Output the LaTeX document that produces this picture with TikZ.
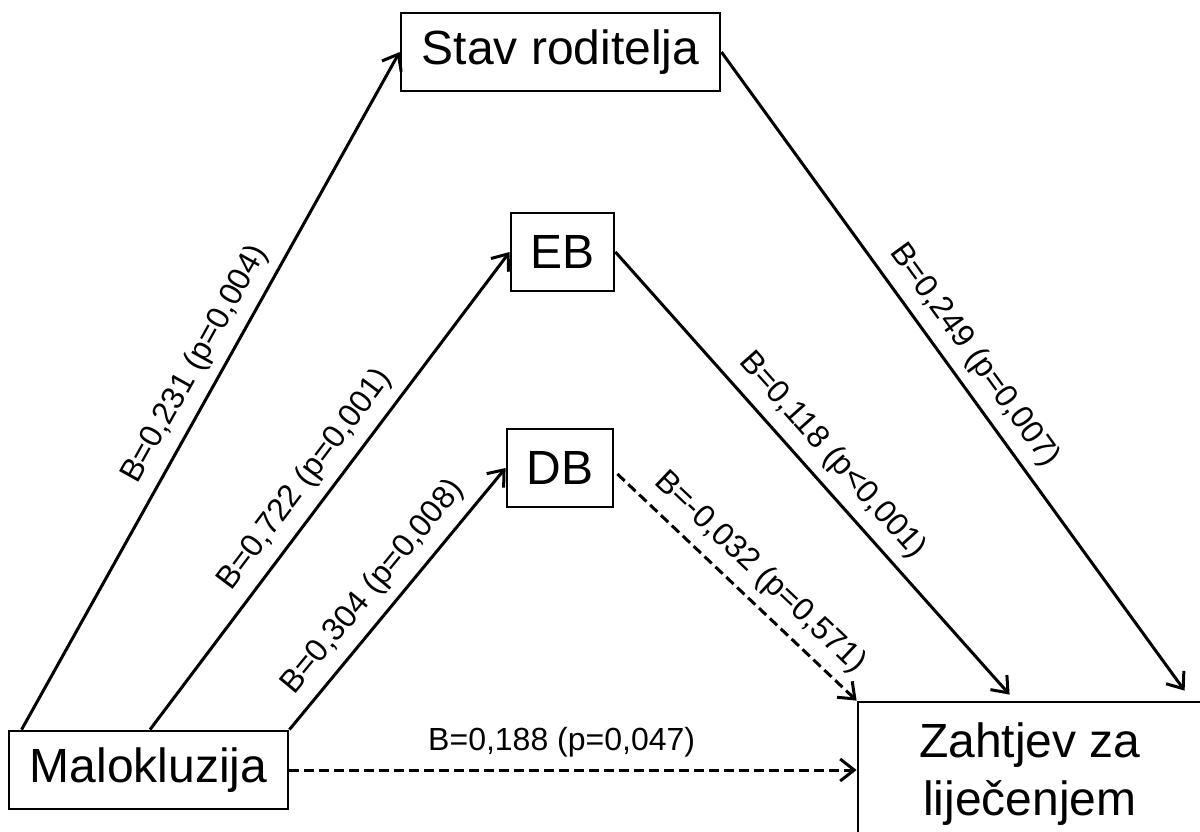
\documentclass[tikz,border=0pt]{standalone}
\usepackage{fontspec}
\setmainfont{Liberation Sans}
\usetikzlibrary{arrows.meta}
\begin{document}
\begin{tikzpicture}[x=1pt,y=-1pt,
  box/.style={draw,line width=2.8pt,inner sep=0pt,font=\fontsize{48pt}{58pt}\selectfont},
  conn/.style={line width=3pt,-{Straight Barb[length=14pt,width=22pt,line width=3pt]}},
  dconn/.style={conn,dash pattern=on 10pt off 5pt},
  lab/.style={font=\fontsize{32pt}{38pt}\selectfont,inner sep=2pt,sloped}]
\useasboundingbox (0,0) rectangle (1200,832);
\node[box,minimum width=279pt,minimum height=78pt] (malo) at (148.5,770) {Malokluzija};
\node[box,minimum width=319pt,minimum height=78pt] (stav) at (560.5,52) {Stav roditelja};
\node[box,minimum width=103pt,minimum height=78pt] (eb) at (562.5,252) {EB};
\node[box,minimum width=106pt,minimum height=78pt] (db) at (560,468) {DB};
\node[box,minimum width=344pt,minimum height=145pt,align=center] (zah) at (1030,774.5) {Zahtjev za\\liječenjem};
\draw[conn] ([xshift=14pt]malo.north west) -- (stav.west)
  node[lab,pos=0.52,above=8pt] {B=0,231 (p=0,004)};
\draw[conn] ([xshift=1.5pt]malo.north) -- (eb.west)
  node[lab,pos=0.49,above=8pt] {B=0,722 (p=0,001)};
\draw[conn] (malo.north east) -- (db.west)
  node[lab,pos=0.48,above=8pt] {B=0,304 (p=0,008)};
\draw[conn] (stav.east) -- ([xshift=328pt,yshift=10pt]zah.north west)
  node[lab,pos=0.5,above=8pt] {B=0,249 (p=0,007)};
\draw[conn] (eb.east) -- ([xshift=153pt,yshift=6pt]zah.north west)
  node[lab,pos=0.5,above=8pt] {B=0,118 (p<0,001)};
\draw[dconn] ([xshift=3pt,yshift=-6pt]db.east) -- (zah.north west)
  node[lab,pos=0.52,above=8pt] {B=-0,032 (p=0,571)};
\draw[dconn] (malo.east) -- (malo.east -| zah.west)
  node[lab,pos=0.48,above=9pt] {B=0,188 (p=0,047)};
\end{tikzpicture}
\end{document}
